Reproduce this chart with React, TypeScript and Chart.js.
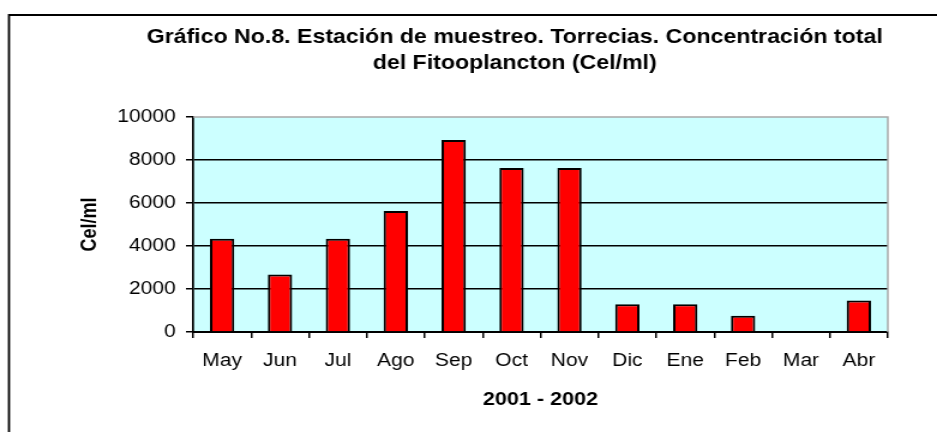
import React, { useEffect, useRef } from "react";
import { Chart, registerables } from "chart.js";

Chart.register(...registerables);

// ---- data ----
const categories = ["May", "Jun", "Jul", "Ago", "Sep", "Oct", "Nov", "Dic", "Ene", "Feb", "Mar", "Abr"];
const values = [4340, 2680, 4340, 5630, 8930, 7630, 7630, 1290, 1290, 760, 0, 1460];
const yTicks = [0, 2000, 4000, 6000, 8000, 10000];
const titleLines = [
  "Gráfico No.8. Estación de muestreo. Torrecias. Concentración total",
  "del Fitooplancton (Cel/ml)",
];
const yTitle = "Cel/ml";
const xTitle = "2001 - 2002";

// ---- layout ----
const W = 937;
const H = 432;
const SX = 1.2; // horizontal stretch of the reference rendering
const LW = Math.round(W / SX);
const FONT = "'Liberation Sans', Arial, Helvetica, sans-serif";

const decor = {
  id: "decor",
  beforeDraw(chart: any) {
    const { ctx, chartArea: a } = chart;
    ctx.save();
    ctx.fillStyle = "#CCFFFF";
    ctx.fillRect(a.left, a.top, a.right - a.left, a.bottom - a.top);
    ctx.restore();
  },
  afterDraw(chart: any) {
    const { ctx, chartArea: a } = chart;
    ctx.save();
    ctx.strokeStyle = "#a8a8a8";
    ctx.lineWidth = 1.5;
    ctx.beginPath();
    ctx.moveTo(a.left, a.top);
    ctx.lineTo(a.right, a.top);
    ctx.lineTo(a.right, a.bottom);
    ctx.stroke();

    ctx.strokeStyle = "#000";
    ctx.lineWidth = 1.8;
    ctx.beginPath();
    ctx.moveTo(7.5, H + 10);
    ctx.lineTo(7.5, 15);
    ctx.lineTo(LW + 10, 15);
    ctx.stroke();

    ctx.fillStyle = "#000";
    ctx.font = `bold 19.3px ${FONT}`;
    ctx.textAlign = "center";
    ctx.textBaseline = "alphabetic";
    ctx.fillText(titleLines[0], 429, 43);
    ctx.fillText(titleLines[1], 429, 69);
    ctx.restore();
  },
};

export default function App() {
  const ref = useRef<HTMLCanvasElement | null>(null);

  useEffect(() => {
    const canvas = ref.current;
    if (!canvas) return;
    const chart = new Chart(canvas, {
      type: "bar",
      data: {
        labels: categories,
        datasets: [
          {
            data: values,
            backgroundColor: "#FF0000",
            borderColor: "#000000",
            borderWidth: 2,
            barPercentage: 0.42,
            categoryPercentage: 1,
          },
        ],
      },
      options: {
        animation: false,
        responsive: false,
        devicePixelRatio: 1,
        layout: { padding: { left: 0, right: LW - 740, top: 117, bottom: 0 } },
        plugins: {
          legend: { display: false },
          tooltip: { enabled: false },
          title: { display: false },
        },
        scales: {
          x: {
            type: "category",
            offset: true,
            grid: {
              display: true,
              drawOnChartArea: false,
              drawTicks: true,
              tickLength: 6,
              color: "#000",
              lineWidth: 1.5,
              offset: true,
            },
            border: { display: true, color: "#000", width: 2 },
            ticks: {
              color: "#000",
              font: { family: FONT, size: 17.5 },
              padding: 13,
              maxRotation: 0,
              autoSkip: false,
            },
            title: {
              display: true,
              text: xTitle,
              color: "#000",
              font: { family: FONT, size: 18, weight: "bold" },
              padding: { top: 0, bottom: 20.7 },
            },
            afterFit: (s: any) => {
              s.height = 100;
            },
          },
          y: {
            min: 0,
            max: 10000,
            afterBuildTicks: (s: any) => {
              s.ticks = yTicks.map((v) => ({ value: v }));
            },
            grid: {
              color: (c: any) => (c.tick && c.tick.value === 10000 ? "rgba(0,0,0,0)" : "#000"),
              tickColor: "#000",
              lineWidth: 1.5,
              tickLength: 6,
              drawTicks: true,
            },
            border: { display: true, color: "#000", width: 1.7 },
            ticks: {
              color: "#000",
              font: { family: FONT, size: 17.5 },
              padding: 8.5,
              callback: (v: any) => String(v),
            },
            title: {
              display: true,
              text: yTitle,
              color: "#000",
              font: { family: FONT, size: 18, weight: "bold" },
              padding: { top: 64.5, bottom: 0 },
            },
            afterFit: (s: any) => {
              s.width = 161;
            },
          },
        },
      },
      plugins: [decor],
    } as any);
    canvas.style.width = `${W}px`;
    canvas.style.height = `${H}px`;
    return () => chart.destroy();
  }, []);

  return (
    <div style={{ position: "fixed", left: 0, top: 0, width: W, height: H, background: "#fff" }}>
      <canvas ref={ref} width={LW} height={H} style={{ display: "block" }} />
    </div>
  );
}
